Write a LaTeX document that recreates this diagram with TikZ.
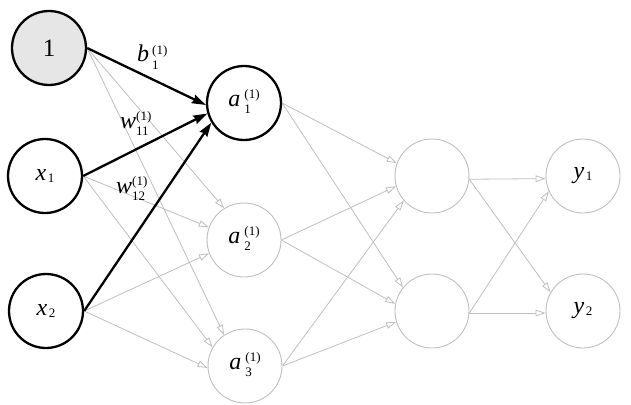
\documentclass[tikz,border=0pt]{standalone}
\usepackage{fontspec}
\setmainfont{Liberation Serif}
\usetikzlibrary{arrows.meta}
\definecolor{lgray}{RGB}{190,190,190}
\definecolor{biasfill}{RGB}{230,230,230}
\newcommand{\sfnt}{\fontsize{13}{14}\selectfont}
\newcommand{\bigf}{\fontsize{24}{26}\selectfont}
% letter, gap, superscript, subscript
\newcommand{\lbl}[4]{{\bigf\textit{#1}}\kern#2\raisebox{0pt}{\sfnt\begin{tabular}[c]{@{}l@{}}#3\\[1.5pt]#4\end{tabular}}}
\newcommand{\vsub}[2]{{\bigf\textit{#1}}\kern1.5pt\raisebox{-2pt}{\sfnt #2}}
\begin{document}
\begin{tikzpicture}[x={(1pt,0)},y={(0,-1pt)},
  neuron/.style={circle,minimum size=74pt,inner sep=0pt,draw=lgray,line width=0.9pt},
  boldn/.style={draw=black,line width=2.3pt},
  gedge/.style={draw=lgray,line width=0.8pt,-{Triangle[open,length=10pt,width=6.5pt]}},
  bedge/.style={draw=black,line width=2.3pt,-{Stealth[length=14pt,width=9pt,inset=1.5pt]}},
  wlab/.style={anchor=base west,inner sep=0pt}]
\useasboundingbox (0,0) rectangle (631,404);
% input layer
\node[neuron,boldn,fill=biasfill] (b0) at (49,48) {\fontsize{25}{27}\selectfont 1};
\node[neuron,boldn] (x1) at (45,176) {\vsub{x}{1}};
\node[neuron,boldn] (x2) at (46,311) {\vsub{x}{2}};
% first hidden layer
\node[neuron,boldn] (a1) at (244,103) {\lbl{a}{4pt}{(1)}{1}};
\node[neuron] (a2) at (244,240) {\lbl{a}{4pt}{(1)}{2}};
\node[neuron] (a3) at (245,366) {\lbl{a}{4pt}{(1)}{3}};
% second hidden layer
\node[neuron] (h1) at (432,176) {};
\node[neuron] (h2) at (432,311) {};
% output layer
\node[neuron] (y1) at (583,176) {\vsub{y}{1}};
\node[neuron] (y2) at (583,311) {\vsub{y}{2}};
% gray connections
\draw[gedge] (b0.east) -- (a2.122);
\draw[gedge] (b0.east) -- (a3.124);
\draw[gedge] (x1.east) -- (a2.160);
\draw[gedge] (x1.east) -- (a3.150);
\draw[gedge] (x2.east) -- (a2.201);
\draw[gedge] (x2.east) -- (a3.183);
\draw[gedge] (a1.east) -- (h1.160);
\draw[gedge] (a2.east) -- (h1.196);
\draw[gedge] (a3.east) -- (h1.221);
\draw[gedge] (a1.east) -- (h2.141);
\draw[gedge] (a2.east) -- (h2.169);
\draw[gedge] (a3.east) -- (h2.197);
\draw[gedge] (h1.355) -- (y1.184);
\draw[gedge] (h1.355) -- (y2.150);
\draw[gedge] (h2.357) -- (y1.204);
\draw[gedge] (h2.357) -- (y2.183);
% bold connections
\draw[bedge] (b0.east) -- (a1.183);
\draw[bedge] (x1.east) -- (a1.196);
\draw[bedge] (x2.east) -- (a1.211);
% weight labels
\node[wlab] (lb) at (137,62) {\lbl{b}{3pt}{(1)}{1}};
\node[wlab] (lw11) at (120,128) {\lbl{w}{0pt}{(1)}{11}};
\node[wlab] (lw12) at (116,193) {\lbl{w}{0pt}{(1)}{12}};
\end{tikzpicture}
\end{document}
